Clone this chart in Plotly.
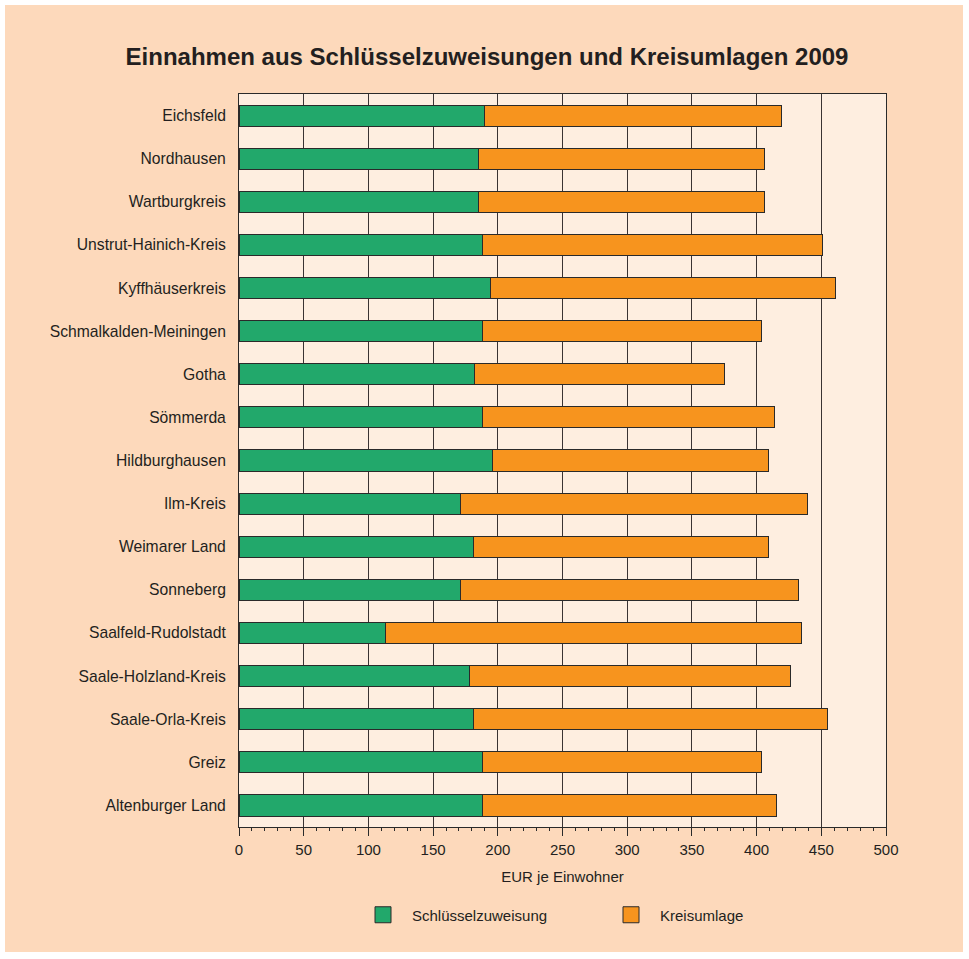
import plotly.graph_objects as go

regions = ["Eichsfeld", "Nordhausen", "Wartburgkreis", "Unstrut-Hainich-Kreis", "Kyffhäuserkreis",
           "Schmalkalden-Meiningen", "Gotha", "Sömmerda", "Hildburghausen", "Ilm-Kreis",
           "Weimarer Land", "Sonneberg", "Saalfeld-Rudolstadt", "Saale-Holzland-Kreis",
           "Saale-Orla-Kreis", "Greiz", "Altenburger Land"]
schluessel = [190, 185, 185, 188, 194, 188, 182, 188, 196, 171, 181, 171, 113, 178, 181, 188, 188]
kreisumlage = [229, 221, 221, 263, 267, 216, 193, 226, 213, 268, 228, 261, 322, 248, 274, 216, 227]
x_ticks = [0, 50, 100, 150, 200, 250, 300, 350, 400, 450, 500]

W, H = 969, 959
L, R, T, B = 239, 886, 94, 827
def px(x): return (x - L) / (R - L)
def py(y): return (B - y) / (B - T)

DARK = "#231F20"
GREEN = "#22A86B"
ORANGE = "#F7941E"
PEACH = "#FDD9BB"
CREAM = "#FEEEE0"
EDGE = "#2a2a2a"

fig = go.Figure()
fig.add_trace(go.Bar(y=regions, x=schluessel, orientation="h", name="Schlüsselzuweisung",
                     marker=dict(color=GREEN, line=dict(color=EDGE, width=1)), width=0.49,
                     showlegend=False))
fig.add_trace(go.Bar(y=regions, x=kreisumlage, orientation="h", name="Kreisumlage",
                     marker=dict(color=ORANGE, line=dict(color=EDGE, width=1)), width=0.49,
                     showlegend=False))
# legend entries with larger square symbols
for name, col in [("Schlüsselzuweisung", GREEN), ("Kreisumlage", ORANGE)]:
    fig.add_trace(go.Scatter(x=[None], y=[None], mode="markers", name=name,
                             marker=dict(symbol="square", size=19, color=col,
                                         line=dict(color=EDGE, width=1)),
                             showlegend=True))

fig.update_layout(
    width=W, height=H,
    barmode="stack",
    paper_bgcolor="white",
    plot_bgcolor=CREAM,
    margin=dict(l=L, r=W - R, t=T, b=H - B, autoexpand=False),
    font=dict(family="Liberation Sans, Arial, sans-serif", size=15, color=DARK),
    title=dict(text="<b>Einnahmen aus Schlüsselzuweisungen und Kreisumlagen 2009</b>",
               font=dict(size=24, color=DARK), x=487 / W, xanchor="center",
               y=1 - 57 / H, yanchor="middle", xref="container", yref="container"),
    showlegend=True,
    legend=dict(orientation="h", x=px(354), xanchor="left", xref="paper",
                y=1 - 915 / H, yanchor="middle", yref="container",
                entrywidth=185, entrywidthmode="pixels", itemwidth=48,
                bgcolor="rgba(0,0,0,0)", font=dict(size=15, color=DARK),
                traceorder="normal"),
    shapes=[
        dict(type="rect", xref="paper", yref="paper", x0=px(5), x1=px(963), y0=py(952), y1=py(5),
             fillcolor=PEACH, line=dict(width=0), layer="below"),
        dict(type="rect", xref="paper", yref="paper", x0=0, x1=1, y0=0, y1=1,
             fillcolor=CREAM, line=dict(width=0), layer="below"),
    ],
)

fig.update_xaxes(
    range=[0, 500], tickvals=x_ticks, ticktext=[str(v) for v in x_ticks],
    showgrid=True, gridcolor="#3a3333", gridwidth=1,
    showline=True, linecolor=EDGE, linewidth=1, mirror=True,
    ticks="outside", ticklen=8, tickcolor=EDGE, tickwidth=1,
    minor=dict(dtick=10, tick0=0, ticks="outside", ticklen=3, tickcolor=EDGE, showgrid=False),
    ticklabelstandoff=1,
    title=dict(text="EUR je Einwohner", font=dict(size=15, color=DARK), standoff=14),
    zeroline=False,
)
fig.update_yaxes(
    type="category", categoryorder="array", categoryarray=regions,
    range=[16.5, -0.5], showgrid=False,
    showline=True, linecolor=EDGE, linewidth=1, mirror=True,
    ticks="", ticklabelstandoff=9, tickfont=dict(size=15.7, color=DARK),
)

fig.write_html("out.html", config={"displayModeBar": False},
               post_script="document.body.style.margin='0';")
